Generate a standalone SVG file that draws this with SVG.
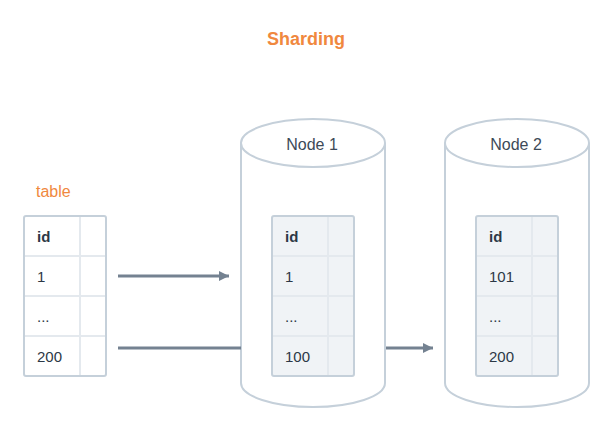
<svg xmlns="http://www.w3.org/2000/svg" width="613" height="432" viewBox="0 0 613 432">
<defs>
<marker id="arr" viewBox="0 0 10 10" refX="10" refY="5" markerWidth="3.4" markerHeight="3.4" orient="auto" markerUnits="strokeWidth">
<path d="M0,0 L10,5 L0,10 Z" fill="#748291"/>
</marker>
</defs>
<style>
.title{font-family:"Liberation Sans",Arial,sans-serif;font-size:18px;font-weight:bold;fill:#f0883e}
.lbl{font-family:"Liberation Sans",Arial,sans-serif;font-size:16px;fill:#f0883e}
.t{font-family:"Liberation Sans",Arial,sans-serif;font-size:15px;fill:#2c3846}
.b{font-weight:bold}
.nt{font-family:"Liberation Sans",Arial,sans-serif;font-size:16px;fill:#3d4a58;text-anchor:middle}
.tbl{fill:#ffffff;stroke:#c5d0da;stroke-width:2}
.tbl2{fill:#f0f3f6;stroke:#c5d0da;stroke-width:2}
.grid{stroke:#e4e9ee;stroke-width:2;fill:none}
.cyl{fill:#ffffff;stroke:#c5d0da;stroke-width:2}
.conn{stroke:#748291;stroke-width:3;fill:none}
</style>
<rect width="613" height="432" fill="#ffffff"/>
<text class="title" x="306" y="45" text-anchor="middle">Sharding</text>

<g id="table">
<text class="lbl" x="36" y="197">table</text>
<rect class="tbl" x="24" y="216" width="82" height="160" rx="2"/>
<path class="grid" d="M80,217V375M25,256H105M25,296H105M25,336H105"/>
<text class="t b" x="37" y="242">id</text>
<text class="t" x="37" y="282">1</text>
<text class="t" x="37" y="322">...</text>
<text class="t" x="37" y="362">200</text>
</g>

<g id="node1">
<path class="cyl" d="M241,143 V383 A72,24 0 0 0 385,383 V143"/>
<ellipse class="cyl" cx="313" cy="143" rx="72" ry="24"/>
<text class="nt" x="312" y="150">Node 1</text>
<rect class="tbl2" x="272" y="216" width="82" height="160" rx="2"/>
<path class="grid" d="M328,217V375M273,256H353M273,296H353M273,336H353"/>
<text class="t b" x="285" y="242">id</text>
<text class="t" x="285" y="282">1</text>
<text class="t" x="285" y="322">...</text>
<text class="t" x="285" y="362">100</text>
</g>

<g id="node2">
<path class="cyl" d="M445,143 V383 A72,24 0 0 0 589,383 V143"/>
<ellipse class="cyl" cx="517" cy="143" rx="72" ry="24"/>
<text class="nt" x="516" y="150">Node 2</text>
<rect class="tbl2" x="476" y="216" width="82" height="160" rx="2"/>
<path class="grid" d="M532,217V375M477,256H557M477,296H557M477,336H557"/>
<text class="t b" x="489" y="242">id</text>
<text class="t" x="489" y="282">101</text>
<text class="t" x="489" y="322">...</text>
<text class="t" x="489" y="362">200</text>
</g>

<g id="connectors">
<path class="conn" d="M118,276H229" marker-end="url(#arr)"/>
<path class="conn" d="M118,348H241"/>
<path class="conn" d="M386,348H433" marker-end="url(#arr)"/>
</g>
</svg>
